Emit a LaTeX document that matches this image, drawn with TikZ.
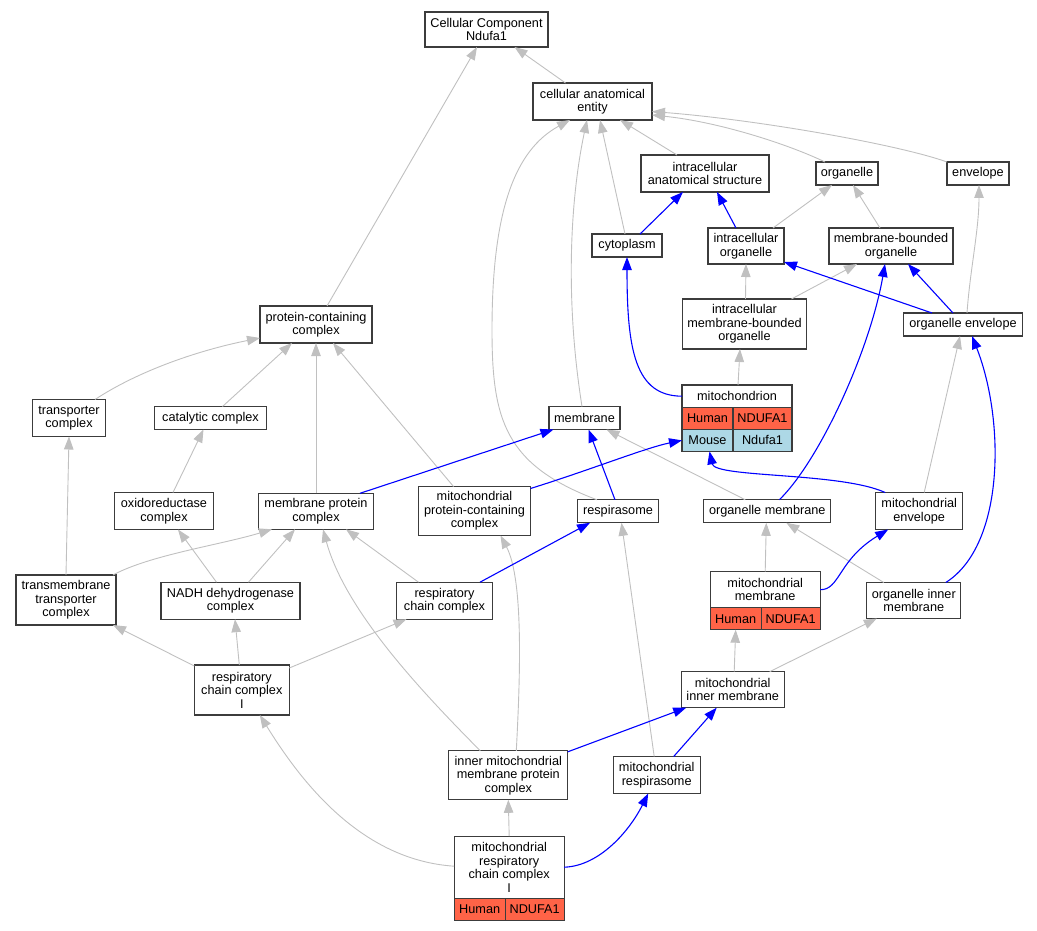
\documentclass[tikz,border=0pt]{standalone}
\usepackage{fontspec}
\setmainfont{Liberation Sans}
\usetikzlibrary{arrows.meta}
\definecolor{human}{RGB}{255,99,71}
\definecolor{mouse}{RGB}{173,216,230}
\definecolor{isagray}{RGB}{192,192,192}
\definecolor{boxline}{RGB}{60,60,60}

\begin{document}
\begin{tikzpicture}[x=1pt, y=-1pt,
        term/.style 2 args={draw=boxline, line width=1.2pt, fill=white, align=center, inner sep=1pt, outer sep=0pt,
            font=\fontsize{12.7}{13.5}\selectfont, minimum width=#1pt, minimum height=#2pt},
        cell/.style 2 args={term={#1}{22}, fill=#2, anchor=north west},
        isa/.style={draw=isagray, line width=0.9pt, -{Triangle[length=13pt,width=9.5pt]}},
        part/.style={draw=blue, line width=1.1pt, -{Triangle[length=13pt,width=9.5pt]}}]
        \useasboundingbox (0,0) rectangle (1037,931);
        \node[term={123}{35}] (cc) at (486.5,29.5) {Cellular Component\\Ndufa1};
        \node[term={119}{37}] (cae) at (592.5,101.5) {cellular anatomical\\entity};
        \node[term={128}{37}] (ias) at (705,173.5) {intracellular\\anatomical structure};
        \node[term={62}{23}] (org) at (847,173.5) {organelle};
        \node[term={62}{23}] (env) at (978,173.5) {envelope};
        \node[term={70}{23}] (cyto) at (627,245.5) {cytoplasm};
        \node[term={76}{36}] (io) at (746,246) {intracellular\\organelle};
        \node[term={124}{36}] (mbo) at (891,246) {membrane-bounded\\organelle};
        \node[term={124}{50}] (imbo) at (744.5,324) {intracellular\\membrane-bounded\\organelle};
        \node[term={119}{23}] (oenv) at (963,324.5) {organelle envelope};
        \node[term={112}{37}] (pcc) at (316,324.5) {protein-containing\\complex};
        \node[term={73}{37}] (tc) at (69,418) {transporter\\complex};
        \node[term={112}{23}] (cat) at (210.5,418) {catalytic complex};
        \node[term={110}{22.3}] (mito) at (737,396.2) {mitochondrion};
        \node[cell={51}{human}] (mitoH) at (mito.south west) {Human};
        \node[cell={59}{human}] (mitoHg) at (mitoH.north east) {NDUFA1};
        \node[cell={51}{mouse}] (mitoM) at (mitoH.south west) {Mouse};
        \node[cell={59}{mouse}] (mitoMg) at (mitoM.north east) {Ndufa1};
        \node[term={71}{23}] (mem) at (584.5,418) {membrane};
        \node[term={99}{37}] (oxr) at (164,511) {oxidoreductase\\complex};
        \node[term={115}{36}] (mpc) at (316,511.3) {membrane protein\\complex};
        \node[term={112}{49}] (mpcc) at (474.5,511) {mitochondrial\\protein-containing\\complex};
        \node[term={81}{23}] (resp) at (618,511.3) {respirasome};
        \node[term={127}{23}] (omem) at (767.3,511.3) {organelle membrane};
        \node[term={87}{37}] (menv) at (919.2,511) {mitochondrial\\envelope};
        \node[term={100}{50}] (tmtc) at (66,600) {transmembrane\\transporter\\complex};
        \node[term={139}{37}] (nadh) at (230.5,600.7) {NADH dehydrogenase\\complex};
        \node[term={96}{37}] (rcc) at (444.5,600.7) {respiratory\\chain complex};
        \node[term={110}{36}] (mmem) at (765.2,589.7) {mitochondrial\\membrane};
        \node[cell={51}{human}] (mmemH) at (mmem.south west) {Human};
        \node[cell={59}{human}] (mmemHg) at (mmemH.north east) {NDUFA1};
        \node[term={94}{36}] (oim) at (913.8,600.5) {organelle inner\\membrane};
        \node[term={95}{50}] (rcc1) at (241.8,690) {respiratory\\chain complex\\I};
        \node[term={103}{36}] (mim) at (732.7,689.7) {mitochondrial\\inner membrane};
        \node[term={119}{49}] (immpc) at (508.3,775.3) {inner mitochondrial\\membrane protein\\complex};
        \node[term={87}{37}] (mresp) at (656.7,775) {mitochondrial\\respirasome};
        \node[term={110}{62}] (mrcc1) at (509.2,867.2) {mitochondrial\\respiratory\\chain complex\\I};
        \node[cell={51}{human}] (mrcc1H) at (mrcc1.south west) {Human};
        \node[cell={59}{human}] (mrcc1Hg) at (mrcc1H.north east) {NDUFA1};
        \draw[isa] ([xshift=-27pt]cae.north) -- ([xshift=28pt]cc.south);
        \draw[isa] ([xshift=11pt]pcc.north) -- ([xshift=-9.5pt]cc.south);
        \draw[isa] ([xshift=-28pt]ias.north) -- ([xshift=27.5pt]cae.south);
        \draw[isa] ([xshift=-22pt]org.north) .. controls (790,145) and (720,122) .. ([yshift=-13.5pt]cae.east);
        \draw[isa] (env.north west) .. controls (900,145) and (760,120) .. ([yshift=-10pt]cae.east);
        \draw[isa] ([xshift=-2pt]cyto.north) -- ([xshift=7.5pt]cae.south);
        \draw[isa] ([xshift=-2.5pt]mem.north) .. controls (565,300) and (570,200) .. ([xshift=-5.5pt]cae.south);
        \draw[isa] ([xshift=-21pt]resp.north) .. controls (505,465) and (492,420) .. (492,330)
            .. controls (492,210) and (515,150) .. ([xshift=-22.5pt]cae.south);
        \draw[isa] ([xshift=27pt]io.north) -- ([xshift=-15pt]org.south);
        \draw[isa] ([xshift=-11pt]mbo.north) -- ([xshift=6pt]org.south);
        \draw[isa] ([xshift=1pt]imbo.north) -- (io.south);
        \draw[isa] ([xshift=47pt]imbo.north) -- ([xshift=-34pt]mbo.south);
        \draw[isa] ([xshift=4pt]oenv.north) .. controls (970,270) and (979,230) .. ([xshift=1pt]env.south);
        \draw[isa] ([xshift=1pt]mito.north) -- ([xshift=-4.5pt]imbo.south);
        \draw[isa] ([xshift=26pt]tc.north) .. controls (140,370) and (200,350) .. ([yshift=5pt]pcc.south west);
        \draw[isa] ([xshift=12pt]cat.north) -- ([xshift=-24pt]pcc.south);
        \draw[isa] (mpc.north) -- (pcc.south);
        \draw[isa] ([xshift=-21pt]mpcc.north) -- ([xshift=17pt]pcc.south);
        \draw[isa] ([xshift=9pt]oxr.north) -- ([xshift=-7pt]cat.south);
        \draw[isa] ([xshift=-22pt]omem.north) -- ([xshift=22pt]mem.south);
        \draw[isa] ([xshift=5pt]menv.north) -- ([xshift=-3pt]oenv.south);
        \draw[isa] (tmtc.north) -- (tc.south);
        \draw[isa] ([xshift=47pt]tmtc.north) .. controls (150,555) and (220,545) .. ([xshift=-44pt]mpc.south);
        \draw[isa] ([xshift=-14pt]nadh.north) -- ([xshift=14pt]oxr.south);
        \draw[isa] ([xshift=18pt]nadh.north) -- ([xshift=-21pt]mpc.south);
        \draw[isa] ([xshift=-26pt]rcc.north) -- ([xshift=30pt]mpc.south);
        \draw[isa] ([xshift=-28pt]immpc.north) .. controls (420,690) and (345,610) .. ([xshift=7pt]mpc.south);
        \draw[isa] ([xshift=8pt]immpc.north) .. controls (520,680) and (524,580) .. ([xshift=26pt]mpcc.south);
        \draw[isa] ([xshift=-2.5pt]rcc1.north) -- ([xshift=4.5pt]nadh.south);
        \draw[isa] ([yshift=-1pt]rcc1.north west) -- ([xshift=-3pt]tmtc.south east);
        \draw[isa] ([yshift=-3pt]rcc1.north east) -- ([xshift=-38pt]rcc.south);
        \draw[isa] ([xshift=-2.5pt]mresp.north) -- ([xshift=3.5pt]resp.south);
        \draw[isa] (mmem.north) -- ([xshift=-1pt]omem.south);
        \draw[isa] ([xshift=-30pt]oim.north) -- ([xshift=19pt]omem.south);
        \draw[isa] ([xshift=1.5pt]mim.north) -- (mmemH.south);
        \draw[isa] ([xshift=37pt]mim.north) -- ([xshift=-37pt]oim.south);
        \draw[isa] (mrcc1.north) -- (immpc.south);
        \draw[isa] ([yshift=1pt]mrcc1.west) .. controls (360,860) and (300,780) .. ([xshift=18pt]rcc1.south);
        \draw[part] ([xshift=13pt]cyto.north) -- ([xshift=-22pt]ias.south);
        \draw[part] ([xshift=-10pt]io.north) -- ([xshift=12pt]ias.south);
        \draw[part] (mito.west) .. controls (635,396) and (627,350) .. (cyto.south);
        \draw[part] ([xshift=-31pt]oenv.north) -- ([yshift=2pt]io.south east);
        \draw[part] ([xshift=-10pt]oenv.north) -- ([xshift=17pt]mbo.south);
        \draw[part] ([xshift=44pt]mpc.north) -- ([xshift=-31pt]mem.south);
        \draw[part] ([yshift=-2pt]mpcc.north east) .. controls (590,470) and (645,448) .. (mitoM.west);
        \draw[part] ([xshift=-3pt]resp.north) -- ([xshift=4pt]mem.south);
        \draw[part] ([xshift=12pt]omem.north) .. controls (820,460) and (870,350) .. ([xshift=-6pt]mbo.south);
        \draw[part] ([xshift=-34pt]menv.north) .. controls (840,472) and (715,478) .. ([xshift=2pt]mitoM.south);
        \draw[part] (mmem.east) .. controls (840,590) and (838,560) .. ([xshift=-31pt]menv.south);
        \draw[part] ([xshift=32pt]oim.north) .. controls (1005,545) and (1005,420) .. ([xshift=9pt]oenv.south);
        \draw[part] ([xshift=35.5pt]rcc.north) -- ([xshift=-28pt]resp.south);
        \draw[part] ([yshift=-1pt]immpc.north east) -- ([xshift=5pt]mim.south west);
        \draw[part] ([xshift=17pt]mresp.north) -- ([xshift=-16pt]mim.south);
        \draw[part] (mrcc1.east) .. controls (600,866) and (630,830) .. ([xshift=-8.5pt]mresp.south);
    \end{tikzpicture}
\end{document}
